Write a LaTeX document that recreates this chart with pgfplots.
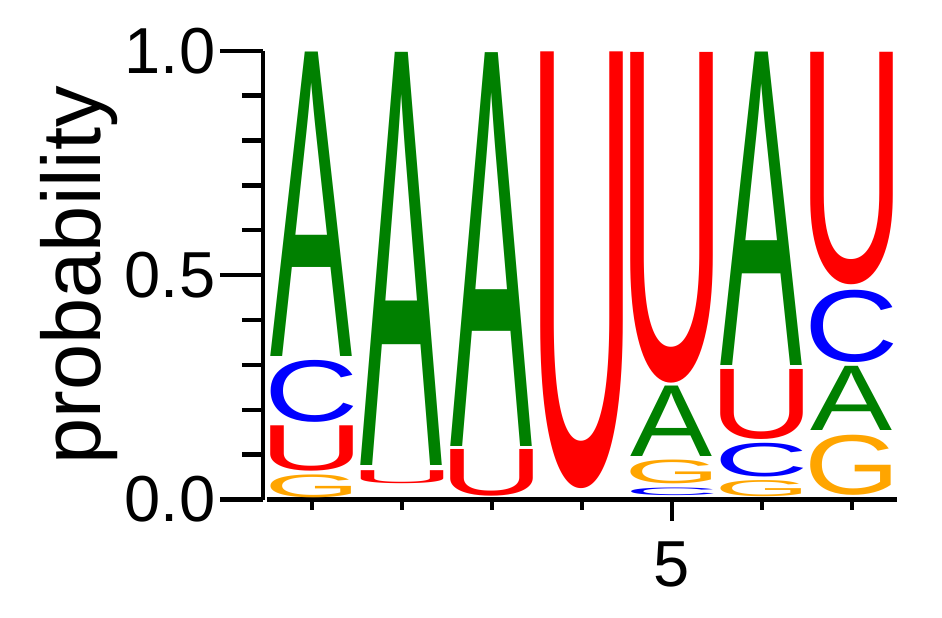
\documentclass[border=0pt]{standalone}
\usepackage{fontspec}
\setmainfont{Liberation Sans}
\usepackage{graphicx}
\usepackage{pgfplots}
\pgfplotsset{compat=1.18}
\usepackage{pgfplotstable}

\definecolor{lA}{RGB}{0,128,0}
\definecolor{lC}{RGB}{0,0,255}
\definecolor{lG}{RGB}{255,165,0}
\definecolor{lU}{RGB}{255,0,0}

% letters cut down to their ink, so that they fill the column
\newcommand{\glyphA}{A}
\newcommand{\glyphC}{\kern-0.049em C\kern-0.044em}
\newcommand{\glyphG}{\kern-0.054em G\kern-0.058em}
\newcommand{\glyphU}{\kern-0.079em U\kern-0.079em}

% column, bottom of the letter's box, probability, letter
\pgfplotstableread{
x b p L
1 0.000 0.059 G
1 0.059 0.109 U
1 0.168 0.146 C
1 0.314 0.686 A
2 0.031 0.037 U
2 0.072 0.928 A
3 0.003 0.112 U
3 0.115 0.885 A
4 0.020 0.980 U
5 0.005 0.025 C
5 0.030 0.061 G
5 0.091 0.165 A
5 0.256 0.744 U
6 0.003 0.044 G
6 0.047 0.083 C
6 0.130 0.164 U
6 0.294 0.706 A
7 0.005 0.142 G
7 0.150 0.151 A
7 0.301 0.169 C
7 0.474 0.526 U
}\logo

\newcommand{\ticksize}{\fontsize{32.5}{39}\selectfont}

\begin{document}
\begin{tikzpicture}
\useasboundingbox (-133.5pt,-58.75pt) rectangle (337.5pt,249.75pt);
\begin{axis}[
  at={(0,0)}, anchor=south west,
  scale only axis, width=315pt, height=224.4pt,
  xmin=0.5, xmax=7.5, ymin=0, ymax=1,
  clip=false,
  axis x line*=bottom, axis y line*=left,
  axis y line shift=2pt,
  axis line style={line width=2.2pt, -},
  tick align=outside,
  ytick={0,0.5,1}, yticklabels={},
  minor ytick={0.1,0.2,0.3,0.4,0.6,0.7,0.8,0.9},
  major tick length=21.5pt, minor tick length=10.5pt,
  tick style={line width=2.2pt, black},
  xtick=\empty,
  ylabel={probability},
  ylabel style={font=\fontsize{41.5}{50}\selectfont, inner sep=0pt,
    at={(axis description cs:-0.265,0.5)}, anchor=base},
]
\addplot[draw=none, mark=none,
  point meta=explicit symbolic,
  visualization depends on={(\thisrow{p}-0.008)*224.4 \as \Hh},
  nodes near coords={\color{l\pgfplotspointmeta}\resizebox*{41pt}{\Hh pt}{\csname glyph\pgfplotspointmeta\endcsname}},
  every node near coord/.style={anchor=south, inner sep=0pt, outer sep=0pt},
] table[x=x, y expr=\thisrow{b}+0.004, meta=L] {\logo};
% x ticks: one per column, the labelled one longer
\pgfplotsinvokeforeach{1,2,3,4,6,7}{
  \draw[line width=2.2pt] (axis cs:#1,0) -- ++(0pt,-5.4pt);
}
\draw[line width=2.2pt] (axis cs:5,0) -- ++(0pt,-10.8pt);
\node[font=\ticksize, inner sep=0pt, anchor=north] at (axis cs:5,0) [yshift=-20.75pt] {5};
% y tick labels
\pgfplotsinvokeforeach{0.0,0.5,1.0}{
  \node[font=\ticksize, inner sep=0pt, anchor=east] at (axis cs:0.5,#1) [xshift=-25.7pt] {#1};
}
\end{axis}
\end{tikzpicture}
\end{document}
